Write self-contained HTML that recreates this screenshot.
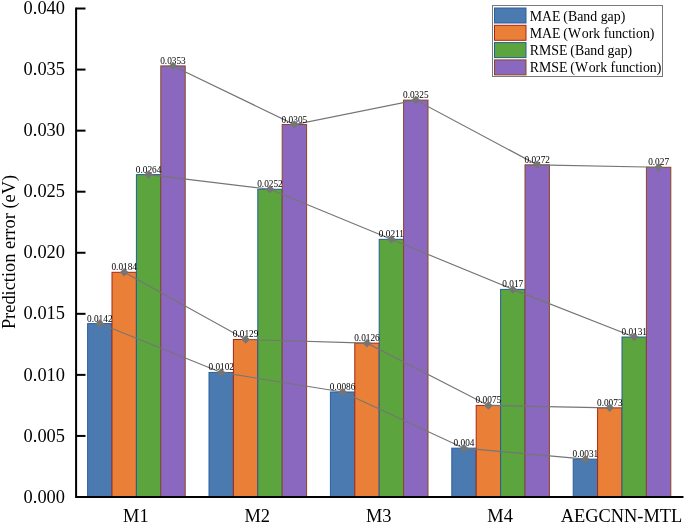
<!DOCTYPE html><html><head><meta charset="utf-8"><style>html,body{margin:0;padding:0;background:#fff}svg{display:block;will-change:transform;opacity:0.999}text{font-family:"Liberation Serif",serif;fill:#000}</style></head><body>
<svg width="685" height="523" viewBox="0 0 685 523">
<rect width="685" height="523" fill="#fff"/>
<rect x="87.60" y="323.59" width="24.40" height="173.41" fill="#4a7ab0" stroke="#2b609e" stroke-width="1"/>
<rect x="112.00" y="272.30" width="24.40" height="224.70" fill="#ea8038" stroke="#a82516" stroke-width="1"/>
<rect x="136.40" y="174.60" width="24.40" height="322.40" fill="#5ca53e" stroke="#245e98" stroke-width="1"/>
<rect x="160.80" y="65.92" width="24.40" height="431.08" fill="#8b68c0" stroke="#8c4420" stroke-width="1"/>
<rect x="209.00" y="372.44" width="24.40" height="124.56" fill="#4a7ab0" stroke="#2b609e" stroke-width="1"/>
<rect x="233.40" y="339.47" width="24.40" height="157.53" fill="#ea8038" stroke="#a82516" stroke-width="1"/>
<rect x="257.80" y="189.26" width="24.40" height="307.74" fill="#5ca53e" stroke="#245e98" stroke-width="1"/>
<rect x="282.20" y="124.53" width="24.40" height="372.47" fill="#8b68c0" stroke="#8c4420" stroke-width="1"/>
<rect x="330.40" y="391.98" width="24.40" height="105.02" fill="#4a7ab0" stroke="#2b609e" stroke-width="1"/>
<rect x="354.80" y="343.13" width="24.40" height="153.87" fill="#ea8038" stroke="#a82516" stroke-width="1"/>
<rect x="379.20" y="239.33" width="24.40" height="257.67" fill="#5ca53e" stroke="#245e98" stroke-width="1"/>
<rect x="403.60" y="100.11" width="24.40" height="396.89" fill="#8b68c0" stroke="#8c4420" stroke-width="1"/>
<rect x="451.80" y="448.15" width="24.40" height="48.85" fill="#4a7ab0" stroke="#2b609e" stroke-width="1"/>
<rect x="476.20" y="405.41" width="24.40" height="91.59" fill="#ea8038" stroke="#a82516" stroke-width="1"/>
<rect x="500.60" y="289.40" width="24.40" height="207.60" fill="#5ca53e" stroke="#245e98" stroke-width="1"/>
<rect x="525.00" y="164.83" width="24.40" height="332.17" fill="#8b68c0" stroke="#8c4420" stroke-width="1"/>
<rect x="573.20" y="459.14" width="24.40" height="37.86" fill="#4a7ab0" stroke="#2b609e" stroke-width="1"/>
<rect x="597.60" y="407.85" width="24.40" height="89.15" fill="#ea8038" stroke="#a82516" stroke-width="1"/>
<rect x="622.00" y="337.02" width="24.40" height="159.98" fill="#5ca53e" stroke="#245e98" stroke-width="1"/>
<rect x="646.40" y="167.28" width="24.40" height="329.72" fill="#8b68c0" stroke="#8c4420" stroke-width="1"/>
<path d="M76.1 7.5 V498.0 M75.1 497.0 H683.5" stroke="#000" stroke-width="2" fill="none"/>
<path d="M76.5 497.0 H85.5" stroke="#000" stroke-width="2"/>
<text x="65.0" y="502.6" font-size="18.4" text-anchor="end">0.000</text>
<path d="M76.5 435.94 H85.5" stroke="#000" stroke-width="2"/>
<text x="65.0" y="441.5" font-size="18.4" text-anchor="end">0.005</text>
<path d="M76.5 374.88 H85.5" stroke="#000" stroke-width="2"/>
<text x="65.0" y="380.5" font-size="18.4" text-anchor="end">0.010</text>
<path d="M76.5 313.82 H85.5" stroke="#000" stroke-width="2"/>
<text x="65.0" y="319.4" font-size="18.4" text-anchor="end">0.015</text>
<path d="M76.5 252.76 H85.5" stroke="#000" stroke-width="2"/>
<text x="65.0" y="258.4" font-size="18.4" text-anchor="end">0.020</text>
<path d="M76.5 191.7 H85.5" stroke="#000" stroke-width="2"/>
<text x="65.0" y="197.3" font-size="18.4" text-anchor="end">0.025</text>
<path d="M76.5 130.64 H85.5" stroke="#000" stroke-width="2"/>
<text x="65.0" y="136.2" font-size="18.4" text-anchor="end">0.030</text>
<path d="M76.5 69.57999999999998 H85.5" stroke="#000" stroke-width="2"/>
<text x="65.0" y="75.2" font-size="18.4" text-anchor="end">0.035</text>
<path d="M76.5 8.519999999999982 H85.5" stroke="#000" stroke-width="2"/>
<text x="65.0" y="14.1" font-size="18.4" text-anchor="end">0.040</text>
<path d="M99.80 323.59 L221.20 372.44 L342.60 391.98 L464.00 448.15 L585.40 459.14" stroke="#757575" stroke-width="1.15" fill="none"/>
<path d="M124.20 272.30 L245.60 339.47 L367.00 343.13 L488.40 405.41 L609.80 407.85" stroke="#757575" stroke-width="1.15" fill="none"/>
<path d="M148.60 174.60 L270.00 189.26 L391.40 239.33 L512.80 289.40 L634.20 337.02" stroke="#757575" stroke-width="1.15" fill="none"/>
<path d="M173.00 65.92 L294.40 124.53 L415.80 100.11 L537.20 164.83 L658.60 167.28" stroke="#757575" stroke-width="1.15" fill="none"/>
<text x="99.80" y="321.59" font-size="9.3" text-anchor="middle">0.0142</text>
<text x="221.20" y="370.44" font-size="9.3" text-anchor="middle">0.0102</text>
<text x="342.60" y="389.98" font-size="9.3" text-anchor="middle">0.0086</text>
<text x="464.00" y="446.15" font-size="9.3" text-anchor="middle">0.004</text>
<text x="585.40" y="457.14" font-size="9.3" text-anchor="middle">0.0031</text>
<text x="124.20" y="270.30" font-size="9.3" text-anchor="middle">0.0184</text>
<text x="245.60" y="337.47" font-size="9.3" text-anchor="middle">0.0129</text>
<text x="367.00" y="341.13" font-size="9.3" text-anchor="middle">0.0126</text>
<text x="488.40" y="403.41" font-size="9.3" text-anchor="middle">0.0075</text>
<text x="609.80" y="405.85" font-size="9.3" text-anchor="middle">0.0073</text>
<text x="148.60" y="172.60" font-size="9.3" text-anchor="middle">0.0264</text>
<text x="270.00" y="187.26" font-size="9.3" text-anchor="middle">0.0252</text>
<text x="391.40" y="237.33" font-size="9.3" text-anchor="middle">0.0211</text>
<text x="512.80" y="287.40" font-size="9.3" text-anchor="middle">0.017</text>
<text x="634.20" y="335.02" font-size="9.3" text-anchor="middle">0.0131</text>
<text x="173.00" y="63.92" font-size="9.3" text-anchor="middle">0.0353</text>
<text x="294.40" y="122.53" font-size="9.3" text-anchor="middle">0.0305</text>
<text x="415.80" y="98.11" font-size="9.3" text-anchor="middle">0.0325</text>
<text x="537.20" y="162.83" font-size="9.3" text-anchor="middle">0.0272</text>
<text x="658.60" y="165.28" font-size="9.3" text-anchor="middle">0.027</text>
<path d="M95.55 323.59 L99.80 319.34 L104.05 323.59 L99.80 327.84Z" fill="#757575"/>
<path d="M216.95 372.44 L221.20 368.19 L225.45 372.44 L221.20 376.69Z" fill="#757575"/>
<path d="M338.35 391.98 L342.60 387.73 L346.85 391.98 L342.60 396.23Z" fill="#757575"/>
<path d="M459.75 448.15 L464.00 443.90 L468.25 448.15 L464.00 452.40Z" fill="#757575"/>
<path d="M581.15 459.14 L585.40 454.89 L589.65 459.14 L585.40 463.39Z" fill="#757575"/>
<path d="M119.95 272.30 L124.20 268.05 L128.45 272.30 L124.20 276.55Z" fill="#757575"/>
<path d="M241.35 339.47 L245.60 335.22 L249.85 339.47 L245.60 343.72Z" fill="#757575"/>
<path d="M362.75 343.13 L367.00 338.88 L371.25 343.13 L367.00 347.38Z" fill="#757575"/>
<path d="M484.15 405.41 L488.40 401.16 L492.65 405.41 L488.40 409.66Z" fill="#757575"/>
<path d="M605.55 407.85 L609.80 403.60 L614.05 407.85 L609.80 412.10Z" fill="#757575"/>
<path d="M144.35 174.60 L148.60 170.35 L152.85 174.60 L148.60 178.85Z" fill="#757575"/>
<path d="M265.75 189.26 L270.00 185.01 L274.25 189.26 L270.00 193.51Z" fill="#757575"/>
<path d="M387.15 239.33 L391.40 235.08 L395.65 239.33 L391.40 243.58Z" fill="#757575"/>
<path d="M508.55 289.40 L512.80 285.15 L517.05 289.40 L512.80 293.65Z" fill="#757575"/>
<path d="M629.95 337.02 L634.20 332.77 L638.45 337.02 L634.20 341.27Z" fill="#757575"/>
<path d="M168.75 65.92 L173.00 61.67 L177.25 65.92 L173.00 70.17Z" fill="#757575"/>
<path d="M290.15 124.53 L294.40 120.28 L298.65 124.53 L294.40 128.78Z" fill="#757575"/>
<path d="M411.55 100.11 L415.80 95.86 L420.05 100.11 L415.80 104.36Z" fill="#757575"/>
<path d="M532.95 164.83 L537.20 160.58 L541.45 164.83 L537.20 169.08Z" fill="#757575"/>
<path d="M654.35 167.28 L658.60 163.03 L662.85 167.28 L658.60 171.53Z" fill="#757575"/>
<text x="135.9" y="521.9" font-size="18.4" text-anchor="middle">M1</text>
<text x="257.3" y="521.9" font-size="18.4" text-anchor="middle">M2</text>
<text x="378.7" y="521.9" font-size="18.4" text-anchor="middle">M3</text>
<text x="500.1" y="521.9" font-size="18.4" text-anchor="middle">M4</text>
<text x="621.5" y="521.9" font-size="18.4" text-anchor="middle">AEGCNN-MTL</text>
<text transform="translate(14.5 252) rotate(-90)" font-size="18.4" text-anchor="middle">Prediction error (eV)</text>
<rect x="492.5" y="5.5" width="170" height="71" fill="#fff" stroke="#7a7a7a" stroke-width="1"/>
<rect x="494.5" y="8.0" width="31.5" height="15" fill="#4a7ab0" stroke="#2b609e" stroke-width="1"/>
<text x="529.7" y="21.20" font-size="13.85" style="font-kerning:none">MAE<tspan dx="2.9">(Band gap)</tspan></text>
<rect x="494.5" y="25.3" width="31.5" height="15" fill="#ea8038" stroke="#a82516" stroke-width="1"/>
<text x="529.7" y="38.25" font-size="13.85" style="font-kerning:none">MAE<tspan dx="2.9">(W<tspan dx="0.7">o</tspan>rk function)</tspan></text>
<rect x="494.5" y="42.6" width="31.5" height="15" fill="#5ca53e" stroke="#245e98" stroke-width="1"/>
<text x="529.7" y="55.30" font-size="13.85" style="font-kerning:none">RMSE<tspan dx="2.9">(Band gap)</tspan></text>
<rect x="494.5" y="59.9" width="31.5" height="15" fill="#8b68c0" stroke="#8c4420" stroke-width="1"/>
<text x="529.7" y="72.35" font-size="13.85" style="font-kerning:none">RMSE<tspan dx="2.9">(W<tspan dx="0.7">o</tspan>rk function)</tspan></text>
</svg></body></html>
